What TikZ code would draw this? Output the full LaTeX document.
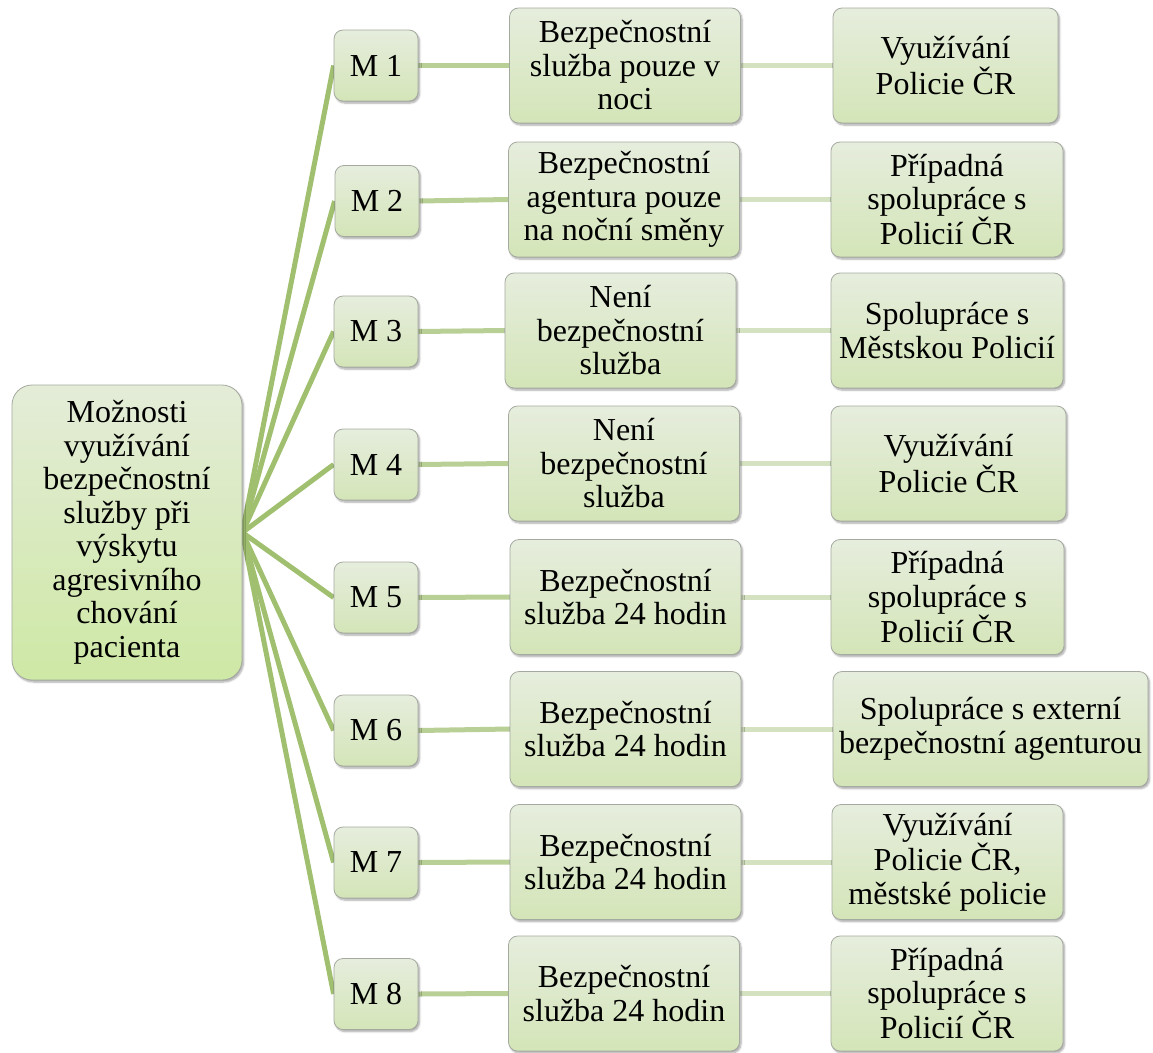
\documentclass[tikz,border=0pt]{standalone}
\usepackage{fontspec}
\setmainfont{Liberation Serif}
\usetikzlibrary{shadows.blur,backgrounds}
\definecolor{boxtop}{RGB}{230,237,221}
\definecolor{boxbot}{RGB}{212,229,184}
\definecolor{roottop}{RGB}{228,236,216}
\definecolor{rootbot}{RGB}{206,232,165}
\definecolor{edgeA}{RGB}{160,192,112}
\definecolor{edgeB}{RGB}{184,207,150}
\definecolor{edgeC}{RGB}{213,226,193}
\definecolor{boxline}{RGB}{165,170,160}
\tikzset{
  card/.style={draw=boxline, line width=0.8pt, rounded corners=9pt,
    top color=boxtop, bottom color=boxbot, align=center,
    font=\fontsize{32}{33.5}\selectfont, inner sep=0pt,
    blur shadow={shadow xshift=1.5pt, shadow yshift=-2pt, shadow blur steps=6, shadow opacity=35}},
  rootcard/.style={card, rounded corners=20pt, top color=roottop, bottom color=rootbot,
    minimum width=230pt, minimum height=295pt},
  mcard/.style={card, minimum width=84pt, minimum height=71pt},
  midcard/.style={card, minimum width=231pt, minimum height=115pt},
  rcard/.style={card, minimum height=115pt},
  linkA/.style={draw=edgeA, line width=5pt},
  linkB/.style={draw=edgeB, line width=5pt},
  linkC/.style={draw=edgeC, line width=5pt},
}
\begin{document}
\begin{tikzpicture}[x=1pt,y=-1pt]
\useasboundingbox (0,0) rectangle (1153,1052);

\node[rootcard] (root) at (127,532.5) {Možnosti\\využívání\\bezpečnostní\\služby při\\výskytu\\agresivního\\chování\\pacienta};

% first column
\node[mcard] (m1) at (376,65.5)  {M 1};
\node[mcard] (m2) at (377,201)   {M 2};
\node[mcard] (m3) at (376,331.5) {M 3};
\node[mcard] (m4) at (376,464.5) {M 4};
\node[mcard] (m5) at (376,597.5) {M 5};
\node[mcard] (m6) at (376,730.5) {M 6};
\node[mcard] (m7) at (376,862.5) {M 7};
\node[mcard] (m8) at (376,994)   {M 8};

% second column
\node[midcard] (s1) at (625,65.5)   {Bezpečnostní\\služba pouze v\\noci};
\node[midcard] (s2) at (624,199.5)  {Bezpečnostní\\agentura pouze\\na noční směny};
\node[midcard] (s3) at (620.5,330.5){Není\\bezpečnostní\\služba};
\node[midcard] (s4) at (624,463.5)  {Není\\bezpečnostní\\služba};
\node[midcard] (s5) at (625.5,597)  {Bezpečnostní\\služba 24 hodin};
\node[midcard] (s6) at (625.5,729)  {Bezpečnostní\\služba 24 hodin};
\node[midcard] (s7) at (625.5,862)  {Bezpečnostní\\služba 24 hodin};
\node[midcard] (s8) at (624,993.5)  {Bezpečnostní\\služba 24 hodin};

% third column
\node[rcard, minimum width=225pt] (r1) at (945.5,65.5) {Využívání\\Policie ČR};
\node[rcard, minimum width=232pt] (r2) at (947,199.5)  {Případná\\spolupráce s\\Policií ČR};
\node[rcard, minimum width=232pt] (r3) at (947,330.5)  {Spolupráce s\\Městskou Policií};
\node[rcard, minimum width=235pt] (r4) at (948.5,463.5){Využívání\\Policie ČR};
\node[rcard, minimum width=233pt] (r5) at (947.5,597)  {Případná\\spolupráce s\\Policií ČR};
\node[rcard, minimum width=315pt] (r6) at (990.5,729)  {Spolupráce s externí\\bezpečnostní agenturou};
\node[rcard, minimum width=231pt] (r7) at (947.5,862)  {Využívání\\Policie ČR,\\městské policie};
\node[rcard, minimum width=232pt] (r8) at (947,993.5)  {Případná\\spolupráce s\\Policií ČR};

% connectors behind the cards
\begin{scope}[on background layer]
\foreach \i in {1,...,8}{
  \path[linkA] (root.east) -- (m\i.west);
  \path[linkB] (m\i.east) -- (s\i.west);
  \path[linkC] (s\i.east) -- (r\i.west);
}
\end{scope}
\end{tikzpicture}
\end{document}
